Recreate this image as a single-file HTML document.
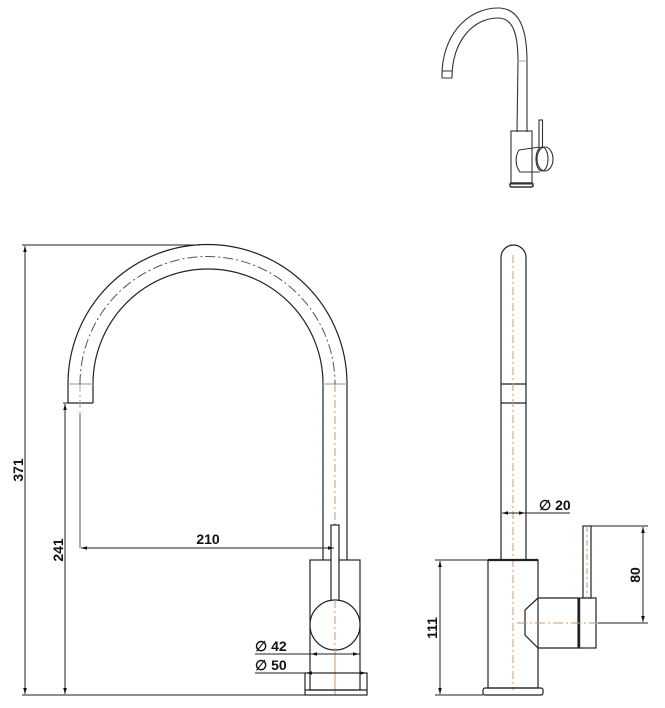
<!DOCTYPE html>
<html><head><meta charset="utf-8"><style>
html,body{margin:0;padding:0;background:#fff;}
svg{display:block}
text{font-family:"Liberation Sans Narrow","Liberation Sans",sans-serif;font-weight:bold;font-size:14px;fill:#111}
</style></head><body>
<svg width="665" height="708" viewBox="0 0 665 708" xmlns="http://www.w3.org/2000/svg">
<defs>
<marker id="a" viewBox="0 0 10 10" refX="10" refY="5" markerWidth="8" markerHeight="6" orient="auto-start-reverse"><path d="M0,2 L10,5 L0,8 z" fill="#111"/></marker>
</defs>
<g fill="none" stroke="#222" stroke-width="1.2">
<path d="M68,403 L68,384 A139.5,139.5 0 0 1 347,384 L347,560"/>
<path d="M93,403 L93,384 A115,115 0 0 1 323,384 L323,560"/>
<path d="M68,403 L93,403"/>
<path d="M68,384 L93,384 M323,384 L347,384" stroke="#aaa"/>
<path d="M80,384 A127.5,127.5 0 0 1 335,384" stroke="#555" stroke-dasharray="10,3,2,3" stroke-width="1"/>
<path d="M80,384 L80,412 M335,384 L335,695" stroke="#c89a70" stroke-dasharray="8,3,2,3" stroke-width="1"/>
<rect x="310" y="560" width="50" height="130"/>
<rect x="305" y="673" width="62" height="22"/>
<path d="M305,690 L367,690"/>
<rect x="331" y="525" width="8" height="76" fill="#fff"/>
<circle cx="335" cy="625" r="25" fill="#fff"/>
<path d="M335,600 L335,695" stroke="#c89a70" stroke-dasharray="8,3,2,3" stroke-width="1"/>
<path d="M22,245 L200,245 M22,695 L367,695 M63,403 L68,403" stroke-width="1"/>
<path d="M25,246 L25,694" stroke-width="1" marker-start="url(#a)" marker-end="url(#a)"/>
<path d="M65,404 L65,694" stroke-width="1" marker-start="url(#a)" marker-end="url(#a)"/>
<path d="M80,413 L80,548" stroke-width="1" stroke="#555"/>
<path d="M81,548 L334,548" stroke-width="1" marker-start="url(#a)" marker-end="url(#a)"/>
<path d="M255,654 L360,654 M255,673 L367,673" stroke-width="1"/>
<path d="M311,654 L359,654" stroke-width="1" marker-start="url(#a)" marker-end="url(#a)"/>
<path d="M306,673 L366,673" stroke-width="1" marker-start="url(#a)" marker-end="url(#a)"/>
<path d="M501,560 L501,257.5 A12.5,12.5 0 0 1 526,257.5 L526,560"/>
<path d="M501,384 L526,384 M501,403 L526,403"/>
<path d="M513,255 L513,690" stroke="#c89a70" stroke-dasharray="8,3,2,3" stroke-width="1"/>
<rect x="488" y="560" width="50" height="128"/>
<path d="M488,560 L538,560" stroke-width="2.2"/>
<rect x="483" y="688" width="60" height="7" rx="2"/>
<path d="M538,598 L525,610 L525,635 L538,648 L578,648 M538,598 L578,598"/>
<rect x="578" y="598" width="18" height="50"/>
<path d="M579,598 L579,648" stroke-width="2.4"/>
<rect x="583" y="526" width="8" height="72"/>
<path d="M587,526 L587,598" stroke="#c89a70" stroke-dasharray="6,3,2,3" stroke-width="1"/>
<path d="M517,623 L598,623" stroke="#c89a70" stroke-dasharray="10,3,2,3" stroke-width="1"/>
<path d="M502,513 L525,513" stroke-width="1" marker-start="url(#a)" marker-end="url(#a)"/>
<path d="M525,513 L570,513" stroke-width="1"/>
<path d="M591,526 L648,526 M598,623 L648,623 M435,560 L488,560 M435,695 L483,695" stroke-width="1"/>
<path d="M643,527 L643,622" stroke-width="1" marker-start="url(#a)" marker-end="url(#a)"/>
<path d="M440,561 L440,694" stroke-width="1" marker-start="url(#a)" marker-end="url(#a)"/>
<g stroke="#333" stroke-width="1.1">
<path d="M442,78 C441,35 468,8 498,8 C521,8 527,32 527,62 L527,132"/>
<path d="M452,78 C452,40 474,18 498,18 C514,18 518,36 518,62 L517,132"/>
<path d="M442,78 L452,78 M442,71 L452,71"/>
<path d="M517,61 L527,61" stroke="#aaa"/>
<rect x="511" y="131" width="21" height="53"/>
<rect x="510" y="183" width="23" height="4" rx="1.5" stroke-width="1.6"/>
<path d="M519,150 C515,156 515,166 520,172 L540,172 M519,150 L540,147"/>
<rect x="539" y="120" width="3.5" height="30" fill="#fff"/>
<ellipse cx="545" cy="159" rx="8" ry="12" fill="#fff"/>
<ellipse cx="542" cy="159" rx="6" ry="12"/>
</g>
</g>
<text x="208" y="544" text-anchor="middle" font-size="15">210</text>
<text transform="translate(23,470) rotate(-90)" text-anchor="middle" font-size="15">371</text>
<text transform="translate(63,550) rotate(-90)" text-anchor="middle" font-size="15">241</text>
<text x="255" y="651" font-size="15">∅ 42</text>
<text x="255" y="670" font-size="15">∅ 50</text>
<text x="539" y="510" font-size="15">∅ 20</text>
<text transform="translate(640,575) rotate(-90)" text-anchor="middle" font-size="15">80</text>
<text transform="translate(437,628) rotate(-90)" text-anchor="middle" font-size="15">111</text>
</svg>
</body></html>
